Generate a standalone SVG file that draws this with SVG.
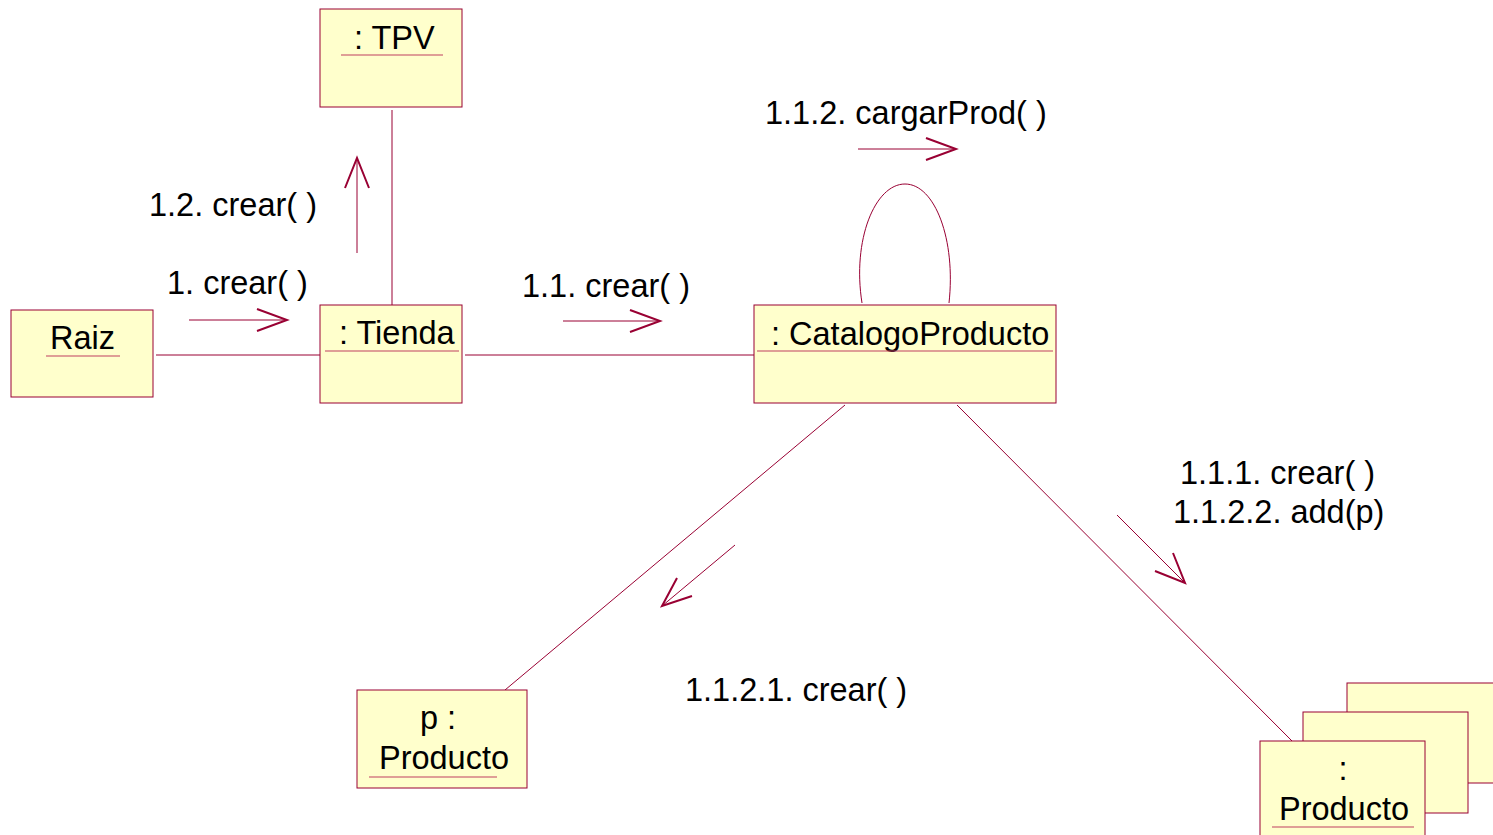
<svg xmlns="http://www.w3.org/2000/svg" width="1493" height="835" viewBox="0 0 1493 835">
<style>
.box{fill:#FFFFCC;stroke:#990033;stroke-width:1}
.ul{stroke:#C04060;stroke-width:1.2}
.ln{stroke:#990033;stroke-width:1;fill:none}
.ar{stroke:#990033;stroke-width:2;fill:none}
text{font-family:"Liberation Sans",Arial,sans-serif;font-size:32.5px;fill:#000}
</style>
<rect width="1493" height="835" fill="#fff"/>
<g id="connectors">
<line class="ln" x1="156" y1="355" x2="320" y2="355"/>
<line class="ln" x1="465" y1="355" x2="754" y2="355"/>
<line class="ln" x1="392" y1="110" x2="392" y2="305"/>
<path class="ln" d="M862,303 C852,240 875,184 905,184 C935,184 956,240 949,303"/>
<line class="ln" x1="845" y1="405" x2="505" y2="690"/>
<line class="ln" x1="957" y1="405" x2="1292" y2="741"/>
<g id="msg1">
<line class="ln" x1="189" y1="320" x2="287" y2="320"/>
<polyline class="ar" points="257,309 287,320 257,331"/>
<text x="167" y="294">1. crear( )</text>
</g>
<g id="msg12">
<line class="ln" x1="357" y1="253" x2="357" y2="158"/>
<polyline class="ar" points="345,188 357,158 369,188"/>
<text x="149" y="216">1.2. crear( )</text>
</g>
<g id="msg11">
<line class="ln" x1="563" y1="321" x2="660" y2="321"/>
<polyline class="ar" points="630,310 660,321 630,332"/>
<text x="522" y="297">1.1. crear( )</text>
</g>
<g id="msg112">
<line class="ln" x1="858" y1="149" x2="956" y2="149"/>
<polyline class="ar" points="926,138 956,149 926,160"/>
<text x="765" y="124">1.1.2. cargarProd( )</text>
</g>
<g id="msg111">
<line class="ln" x1="1117" y1="515" x2="1185" y2="583"/>
<polyline class="ar" points="1173,553 1185,583 1155,571"/>
<text x="1180" y="484">1.1.1. crear( )</text>
<text x="1173" y="523">1.1.2.2. add(p)</text>
</g>
<g id="msg1121">
<line class="ln" x1="735" y1="545" x2="662" y2="606"/>
<polyline class="ar" points="677,578 662,606 692,596"/>
<text x="685" y="701">1.1.2.1. crear( )</text>
</g>
</g>
<g id="tpv">
<rect class="box" x="320" y="9" width="142" height="98"/>
<text x="354" y="49">: TPV</text>
<line class="ul" x1="341" y1="55" x2="443" y2="55"/>
</g>
<g id="raiz">
<rect class="box" x="11" y="310" width="142" height="87"/>
<text x="50" y="349">Raiz</text>
<line class="ul" x1="46" y1="356" x2="120" y2="356"/>
</g>
<g id="tienda">
<rect class="box" x="320" y="305" width="142" height="98"/>
<text x="339" y="344">: Tienda</text>
<line class="ul" x1="325" y1="351" x2="459" y2="351"/>
</g>
<g id="catalogo">
<rect class="box" x="754" y="305" width="302" height="98"/>
<text x="771" y="345">: CatalogoProducto</text>
<line class="ul" x1="757" y1="351" x2="1053" y2="351"/>
</g>
<g id="p-producto">
<rect class="box" x="357" y="690" width="170" height="98"/>
<text x="438" y="729" text-anchor="middle">p :</text>
<text x="444" y="769" text-anchor="middle">Producto</text>
<line class="ul" x1="369" y1="777" x2="497" y2="777"/>
</g>
<g id="productos">
<rect class="box" x="1347" y="683" width="160" height="100"/>
<rect class="box" x="1303" y="712" width="165" height="101"/>
<rect class="box" x="1260" y="741" width="165" height="110"/>
<text x="1343" y="780" text-anchor="middle">:</text>
<text x="1344" y="820" text-anchor="middle">Producto</text>
<line class="ul" x1="1272" y1="827" x2="1414" y2="827"/>
</g>
</svg>
